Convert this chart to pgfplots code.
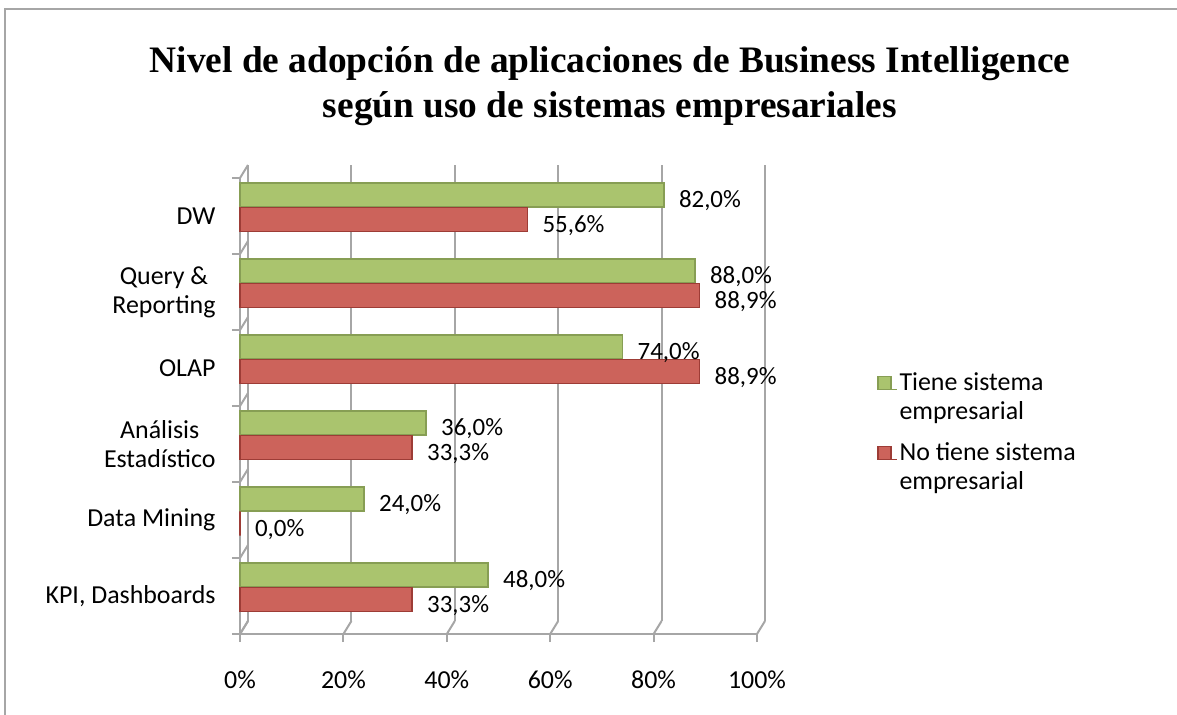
\documentclass[border=0pt]{standalone}
\usepackage{pgfplots}
\pgfplotsset{compat=1.18}
\usepackage{fontspec}
\setmainfont{Carlito}
\newfontfamily\titlefont{Liberation Serif}

\definecolor{barGreen}{RGB}{170,196,110}
\definecolor{barGreenDark}{RGB}{135,158,84}
\definecolor{barRed}{RGB}{204,99,91}
\definecolor{barRedDark}{RGB}{157,60,54}
\definecolor{axisGray}{RGB}{166,166,166}

\begin{document}
\begin{tikzpicture}
    \useasboundingbox (0,0) rectangle (1177bp,-715bp);
    % frame (left and top only visible)
    \draw[axisGray, line width=2bp] (5bp,-715bp) -- (5bp,-9bp) -- (1177bp,-9bp);
    % title
    \node[font=\titlefont\bfseries\fontsize{37.5}{45}\selectfont, align=center]
        at (610bp,-86bp) {Nivel de adopción de aplicaciones de Business Intelligence\\según uso de sistemas empresariales};
    \begin{axis}[
            at={(240bp,-634bp)},
            anchor=south west,
            scale only axis,
            width=517bp,
            height=456bp,
            xbar,
            y dir=reverse,
            xmin=0, xmax=100,
            ymin=-0.5, ymax=5.5,
            bar width=0.32,
            axis x line*=bottom,
            axis y line*=left,
            axis line style={axisGray, line width=2bp},
            xtick={0,20,...,100},
            xticklabels={0\%,20\%,40\%,60\%,80\%,100\%},
            ytick={0,...,5},
            yticklabels={DW,{Query \&\\Reporting},OLAP,{Análisis\\Estadístico},Data Mining,{KPI, Dashboards}},
            minor ytick={-0.5,0.5,...,5.5},
            major tick length=8bp,
            minor tick length=8bp,
            tick align=outside,
            y tick style={draw=none},
            minor y tick style={draw=axisGray, line width=2bp},
            x tick style={axisGray, line width=2bp},
            xmajorgrids=true,
            major grid style={axisGray, line width=2bp, xshift=8bp, yshift=13bp},
            tick label style={font=\fontsize{26}{29}\selectfont},
            x tick label style={yshift=-25bp},
            y tick label style={align=center, xshift=-13bp},
            /pgf/number format/assume math mode=true,
            nodes near coords={\pgfmathprintnumber[fixed,fixed zerofill,precision=1,use comma]{\pgfplotspointmeta}\%},
            point meta=x,
            every node near coord/.append style={font=\fontsize{25}{28}\selectfont, anchor=west, xshift=11bp, yshift=-6bp, black},
            legend style={
                    at={(1.226,0.583)},
                    anchor=north west,
                    draw=none,
                    fill=none,
                    font=\fontsize{26}{29}\selectfont,
                    cells={align=left, anchor=west},
                    row sep=18bp,
                },
            legend image code/.code={
                    \fill[#1] (-5bp,7bp) rectangle (8bp,20bp);
                    \path (-5bp,7bp) -- (14bp,7bp);
                },
            clip=false,
        ]
        % Tiene sistema empresarial
        \addplot[fill=barGreen, draw=barGreenDark, line width=1.5bp, bar shift=-0.276] coordinates {
                (82.0,0) (88.0,1) (74.0,2) (36.0,3) (24.0,4) (48.0,5)
            };
        \addlegendentry{Tiene sistema\\empresarial}
        % No tiene sistema empresarial
        \addplot[fill=barRed, draw=barRedDark, line width=1.5bp, bar shift=0.046] coordinates {
                (55.6,0) (88.9,1) (88.9,2) (33.3,3) (0.0,4) (33.3,5)
            };
        \addlegendentry{No tiene sistema\\empresarial}
        % 3D connectors from front axes to back wall
        \pgfplotsinvokeforeach{0,20,...,100}{
            \draw[axisGray, line width=2bp] (axis cs:#1,5.5) -- ++(8bp,13bp);
        }
        \pgfplotsinvokeforeach{-0.5,0.5,...,5.5}{
            \draw[axisGray, line width=2bp] (axis cs:0,#1) -- ++(8bp,13bp);
        }
    \end{axis}
\end{tikzpicture}
\end{document}
